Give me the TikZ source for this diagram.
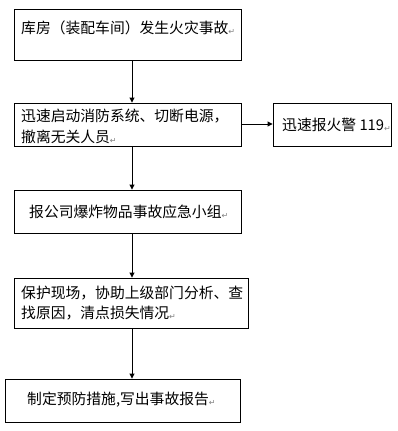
\documentclass[tikz,border=0pt]{standalone}
\usepackage{fontspec}
\setmainfont{Noto Sans CJK SC}
\newfontfamily\symfont{DejaVu Sans}
\usetikzlibrary{arrows.meta}
\tikzset{
  box/.style={draw=black, line width=0.9pt, inner sep=0pt},
  txt/.style={anchor=west, inner sep=0pt, font=\fontsize{14.8}{20.5}\selectfont, align=left},
  conn/.style={draw=black, line width=0.9pt, -{Triangle[width=5pt,length=5pt]}}
}
\newcommand{\pmark}{{\symfont\fontsize{8}{8}\selectfont\color{gray}\raisebox{-1pt}{↵}}}
\begin{document}
\begin{tikzpicture}[x=1pt,y=-1pt]
\useasboundingbox (0,0) rectangle (398,431);
% boxes
\node[box, minimum width=227pt, minimum height=51pt] (b1) at (127.5,34.5) {};
\node[box, minimum width=227pt, minimum height=43pt] (b2) at (127.5,124.5) {};
\node[box, minimum width=118pt, minimum height=43pt] (b6) at (332,124.5) {};
\node[box, minimum width=227pt, minimum height=43pt] (b3) at (127.5,211.5) {};
\node[box, minimum width=234pt, minimum height=50pt] (b4) at (131,303) {};
\node[box, minimum width=235pt, minimum height=43pt] (b5) at (122.5,400.5) {};
% texts
\node[txt] (t1) at (21,28) {库房（装配车间）发生火灾事故\pmark};
\node[txt] (t2) at (21,126.5) {迅速启动消防系统、切断电源，\\撤离无关人员\pmark};
\node[txt] (t6) at (282,125) {迅速报火警 119\pmark};
\node[txt] (t3) at (29,212) {报公司爆炸物品事故应急小组\pmark};
\node[txt] (t4) at (21,303) {保护现场，协助上级部门分析、查\\找原因，清点损失情况\pmark};
\node[txt] (t5) at (27,400) {制定预防措施,写出事故报告\pmark};
% connectors
\coordinate (c1) at (132,60);
\draw[conn] (c1) -- (c1 |- b2.north);
\coordinate (c2) at (132,146);
\draw[conn] (c2) -- (c2 |- b3.north);
\coordinate (c3) at (132,233);
\draw[conn] (c3) -- (c3 |- b4.north);
\coordinate (c4) at (132,328);
\draw[conn] (c4) -- (c4 |- b5.north);
\draw[conn] (b2.east |- 0,124) -- (b6.west |- 0,124);
\end{tikzpicture}
\end{document}
